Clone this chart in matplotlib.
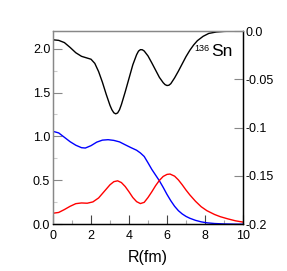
import numpy as np
import matplotlib
matplotlib.use("Agg")
import matplotlib.pyplot as plt
from matplotlib.ticker import MultipleLocator, FixedLocator, FixedFormatter

plt.rcParams['font.family'] = ['Liberation Sans', 'DejaVu Sans']
plt.rcParams['axes.unicode_minus'] = False

# densities (left axis)
r_blue = [0, 0.3, 0.6, 0.9, 1.2, 1.5, 1.7, 2.0, 2.3, 2.6, 2.9, 3.2, 3.5, 3.8, 4.1, 4.4,
          4.6, 4.8, 5.0, 5.2, 5.4, 5.6, 5.8, 6.0, 6.2, 6.4, 6.6, 6.8, 7.0, 7.2, 7.5,
          7.8, 8.1, 8.5, 9.0, 9.5, 10]
blue = [1.058, 1.040, 0.990, 0.940, 0.900, 0.872, 0.868, 0.895, 0.935, 0.958, 0.963,
        0.955, 0.938, 0.905, 0.873, 0.843, 0.812, 0.772, 0.700, 0.625, 0.560, 0.495,
        0.420, 0.340, 0.268, 0.205, 0.155, 0.118, 0.090, 0.069, 0.045, 0.028, 0.017,
        0.009, 0.004, 0.002, 0.001]

r_red = [0, 0.3, 0.6, 0.9, 1.2, 1.5, 1.8, 2.1, 2.4, 2.7, 3.0, 3.2, 3.4, 3.6, 3.8, 4.0,
         4.2, 4.4, 4.6, 4.8, 5.0, 5.2, 5.4, 5.6, 5.8, 6.0, 6.16, 6.4, 6.6, 6.8, 7.0,
         7.2, 7.5, 7.8, 8.1, 8.5, 8.8, 9.2, 9.6, 10]
red = [0.126, 0.135, 0.168, 0.205, 0.235, 0.243, 0.240, 0.255, 0.300, 0.375, 0.450,
       0.485, 0.495, 0.475, 0.430, 0.370, 0.305, 0.258, 0.236, 0.250, 0.305, 0.370,
       0.440, 0.500, 0.545, 0.568, 0.572, 0.548, 0.505, 0.450, 0.390, 0.335, 0.262,
       0.200, 0.155, 0.112, 0.087, 0.062, 0.040, 0.025]

# potential (right axis)
r_pot = [0.0, 0.3, 0.6, 0.9, 1.2, 1.5, 1.8, 2.0, 2.2, 2.4, 2.6, 2.8, 3.0, 3.1, 3.2,
         3.3, 3.4, 3.5, 3.6, 3.8, 4.0, 4.2, 4.4, 4.5, 4.6, 4.7, 4.8, 5.0, 5.2, 5.4,
         5.6, 5.8, 5.9, 6.0, 6.1, 6.2, 6.4, 6.6, 6.8, 7.0, 7.2, 7.4, 7.6, 7.9, 8.2,
         8.6, 9.0, 9.5, 10]
pot = [-0.0091, -0.0097, -0.0120, -0.0170, -0.0225, -0.0262, -0.0280, -0.0292,
       -0.0335, -0.0420, -0.0530, -0.0655, -0.0770, -0.0815, -0.0846, -0.0857,
       -0.0848, -0.0815, -0.0761, -0.0630, -0.0490, -0.0350, -0.0245, -0.0208,
       -0.0193, -0.0194, -0.0207, -0.0258, -0.0330, -0.0405, -0.0480, -0.0535,
       -0.0555, -0.0564, -0.0561, -0.0545, -0.0485, -0.0415, -0.0340, -0.0265,
       -0.0200, -0.0145, -0.0100, -0.0055, -0.0025, -0.0010, -0.0004, -0.0001, 0.0]

right_ticks = [-0.2, -0.15, -0.1, -0.05, 0.0]
right_labels = ['-0.2', '-0.15', '-0.1', '-0.05', '0.0']

fig = plt.figure(figsize=(2.87, 2.71), dpi=100)
ax = fig.add_axes([0.1847, 0.1723, 0.662, 0.7133])
ax2 = ax.twinx()

ax.plot(r_blue, blue, color='#0000ff', lw=1.0)
ax.plot(r_red, red, color='#ff0000', lw=1.0)
ax2.plot(r_pot, pot, color='black', lw=1.0)

ax.set_xlim(0, 10)
ax.set_ylim(0, 2.2)
ax2.set_ylim(-0.2, 0.0)

ax.xaxis.set_major_locator(MultipleLocator(2))
ax.xaxis.set_minor_locator(MultipleLocator(1))
ax.yaxis.set_major_locator(MultipleLocator(0.5))
ax.yaxis.set_minor_locator(MultipleLocator(0.25))
ax2.yaxis.set_major_locator(FixedLocator(right_ticks))
ax2.yaxis.set_major_formatter(FixedFormatter(right_labels))

ax.tick_params(axis='x', which='major', direction='in', length=6.5, width=0.8,
               color='#444444', labelsize=9, pad=4, top=False)
ax.tick_params(axis='x', which='minor', direction='in', length=3, width=0.8,
               color='#aaaaaa', top=False)
ax.tick_params(axis='y', which='major', direction='in', length=6.5, width=0.8,
               color='#888888', labelsize=9, pad=2, right=False)
ax.tick_params(axis='y', which='minor', direction='in', length=3, width=0.8,
               color='#cccccc', right=False)
ax2.tick_params(axis='y', which='major', direction='in', length=6.5, width=0.8,
                color='#888888', labelsize=9, pad=1.5)

for a in (ax, ax2):
    a.spines['left'].set_color('#888888')
    a.spines['top'].set_color('#888888')
    a.spines['right'].set_color('black')
    a.spines['bottom'].set_color('black')
    for s in a.spines.values():
        s.set_linewidth(0.9)

ax.set_xlabel('R(fm)', fontsize=11.5, labelpad=6)

ax.text(7.45, 1.975, '136', fontsize=6.5, ha='left', va='baseline')
ax.text(8.35, 1.91, 'Sn', fontsize=12.5, ha='left', va='baseline')

fig.savefig('out.png', dpi=100)
